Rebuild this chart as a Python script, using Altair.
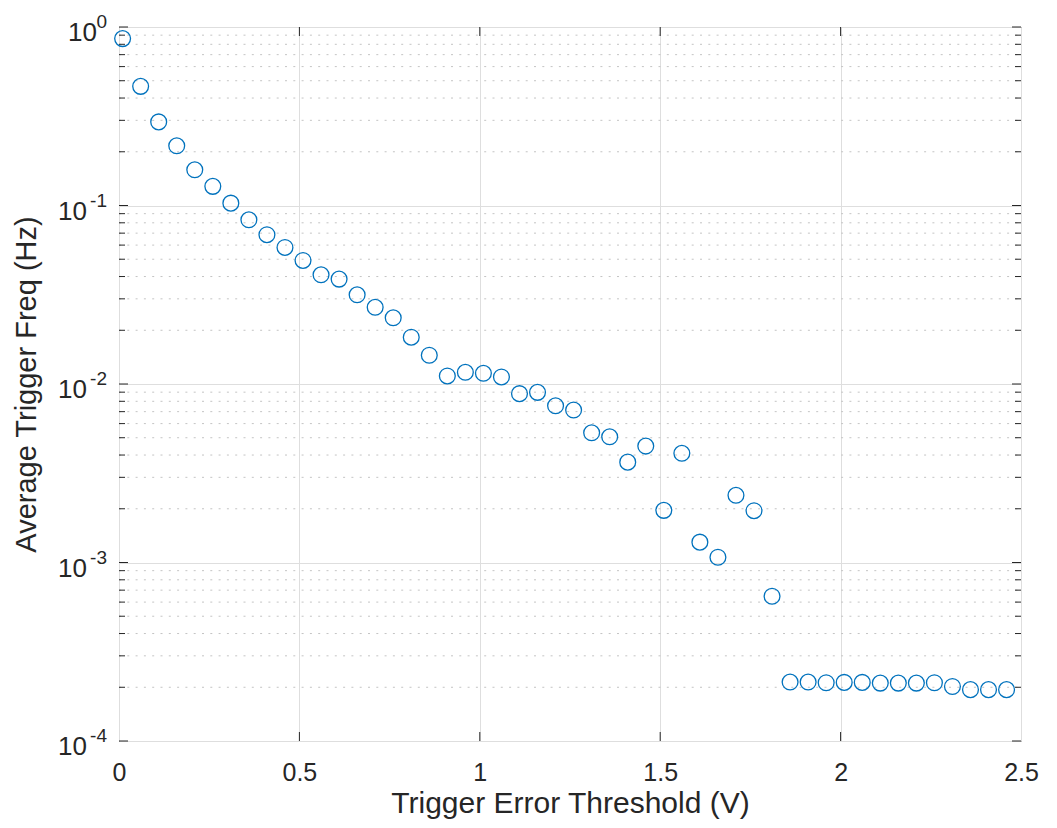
import altair as alt
import pandas as pd

# ---- data ----
threshold_v = [0.01, 0.06, 0.11, 0.16, 0.21, 0.26, 0.31, 0.36, 0.41, 0.46,
               0.51, 0.56, 0.61, 0.66, 0.71, 0.76, 0.81, 0.86, 0.91, 0.96,
               1.01, 1.06, 1.11, 1.16, 1.21, 1.26, 1.31, 1.36, 1.41, 1.46,
               1.51, 1.56, 1.61, 1.66, 1.71, 1.76, 1.81, 1.86, 1.91, 1.96,
               2.01, 2.06, 2.11, 2.16, 2.21, 2.26, 2.31, 2.36, 2.41, 2.46]
avg_freq_hz = [0.861, 0.465, 0.294, 0.216, 0.1585, 0.128, 0.1031, 0.0832, 0.0686, 0.0582,
               0.0492, 0.0409, 0.0387, 0.0316, 0.0269, 0.0235, 0.01828, 0.01449, 0.01109, 0.01163,
               0.01148, 0.01095, 0.00883, 0.00898, 0.00755, 0.00715, 0.00533, 0.00506, 0.00365, 0.00449,
               0.00196, 0.00409, 0.00130, 0.00107, 0.00238, 0.00195, 0.000647, 0.000214, 0.000214, 0.000212,
               0.000213, 0.000213, 0.000211, 0.000211, 0.000211, 0.000212, 0.000202, 0.000194, 0.000194, 0.000194]

x_ticks = [0, 0.5, 1, 1.5, 2, 2.5]
x_inner_ticks = [0.5, 1, 1.5, 2]
y_decades = [1, 0.1, 0.01, 0.001, 0.0001]
y_exponents = ["0", "-1", "-2", "-3", "-4"]
y_minor = [k * 10.0 ** e for e in range(-4, 0) for k in range(2, 10)]

x_title = "Trigger Error Threshold (V)"
y_title = "Average Trigger Freq (Hz)"

# ---- layout / style ----
W, H = 902, 714
FONT = "Liberation Sans"
INK = "#262626"
BLUE = "#0072BD"

df = pd.DataFrame({"thr": threshold_v, "f": avg_freq_hz})
df_dec = pd.DataFrame({"v": y_decades, "e": y_exponents, "base": ["10"] * len(y_decades)})
df_minor = pd.DataFrame({"v": y_minor})
df_xt = pd.DataFrame({"t": x_inner_ticks})

xs = alt.Scale(domain=[0, 2.5], nice=False, zero=False)
ys = alt.Scale(type="log", domain=[1e-4, 1], nice=False)

xaxis = alt.Axis(values=x_ticks, format="~g", grid=True, gridColor="#dedede", gridWidth=1,
                 ticks=False, tickSize=0, domain=False,
                 labelFont=FONT, labelFontSize=25, labelColor=INK,
                 labelBaseline="alphabetic", labelPadding=39, labelFlush=False,
                 title=x_title, titleFont=FONT, titleFontSize=30, titleFontWeight="normal",
                 titleColor=INK, titleBaseline="alphabetic", titleAlign="center",
                 titleX=W / 2, titleY=71)
yaxis = alt.Axis(values=y_decades, grid=True, gridColor="#dedede", gridWidth=1,
                 ticks=False, tickSize=0, domain=False, labels=False,
                 title=y_title, titleFont=FONT, titleFontSize=29, titleFontWeight="normal",
                 titleColor=INK, titleAngle=270, titleBaseline="alphabetic",
                 titleAlign="center", titleX=-84, titleY=H / 2)

X = lambda f: alt.X(f, scale=xs, axis=xaxis)
Y = lambda f: alt.Y(f, scale=ys, axis=yaxis)

minor_grid = alt.Chart(df_minor).mark_rule(color="#c4c4c4", strokeDash=[2, 6.3], strokeWidth=1).encode(
    y=Y("v:Q"), x=alt.value(0), x2=alt.value(W))

points = alt.Chart(df).mark_point(shape="circle", filled=False, size=250, strokeWidth=1.3,
                                  color=BLUE, opacity=1).encode(x=X("thr:Q"), y=Y("f:Q"))

def yticks(data, x0, x1):
    return alt.Chart(data).mark_rule(color=INK, strokeWidth=1).encode(
        y=Y("v:Q"), x=alt.value(x0), x2=alt.value(x1))

def xticks(y0, y1):
    return alt.Chart(df_xt).mark_rule(color=INK, strokeWidth=1).encode(
        x=X("t:Q"), y=alt.value(y0), y2=alt.value(y1))

tick_layers = [
    yticks(df_dec, 0, 9), yticks(df_dec, W - 9, W),
    yticks(df_minor, 0, 6), yticks(df_minor, W - 6, W),
    xticks(H, H - 9), xticks(0, 9),
]

ten_zero = alt.Chart(df_dec).transform_filter("datum.e == '0'").mark_text(
    align="right", baseline="alphabetic", fontSize=26, font=FONT, color=INK, dy=14).encode(
    y=Y("v:Q"), x=alt.value(-22), text="base:N")
ten_neg = alt.Chart(df_dec).transform_filter("datum.e != '0'").mark_text(
    align="right", baseline="alphabetic", fontSize=26, font=FONT, color=INK, dy=14).encode(
    y=Y("v:Q"), x=alt.value(-32), text="base:N")
expo = alt.Chart(df_dec).mark_text(
    align="right", baseline="alphabetic", fontSize=19, font=FONT, color=INK, dy=1).encode(
    y=Y("v:Q"), x=alt.value(-12), text="e:N")

chart = alt.layer(minor_grid, points, *tick_layers, ten_zero, ten_neg, expo).properties(
    width=W, height=H,
    autosize=alt.AutoSizeParams(type="none"),
    padding={"left": 111, "top": 19, "right": 20, "bottom": 79},
    background="white",
).configure_view(stroke=INK, strokeWidth=1)

chart.save("out.html", embed_options={"renderer": "svg", "actions": False})
